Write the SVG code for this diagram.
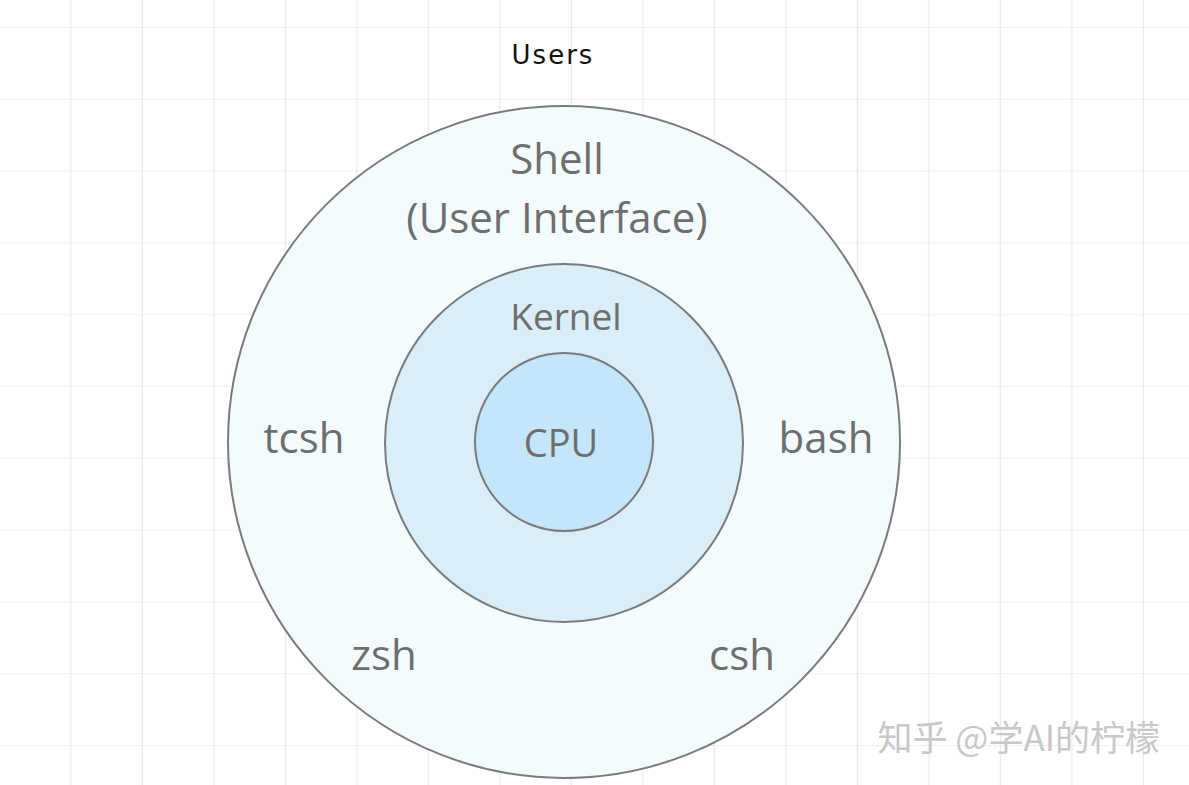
<svg xmlns="http://www.w3.org/2000/svg" width="1189" height="785" viewBox="0 0 1189 785">
<defs>
<pattern id="grid" x="0" y="27" width="71.5" height="71.8" patternUnits="userSpaceOnUse">
<path d="M71 0V71.8M0 0H71.5" fill="none" stroke="#ebebeb" stroke-width="1.5"/>
</pattern>
</defs>
<style>
.c{stroke:#7b7b7b;stroke-width:2}
.t{font-family:"Open Sans","Liberation Sans",sans-serif;fill:#6e6e6e;text-anchor:middle}
</style>
<rect width="1189" height="785" fill="#fff"/>
<rect width="1189" height="785" fill="url(#grid)"/>
<text x="553" y="64" style="font-family:'Comic Sans MS','DejaVu Sans',sans-serif;font-size:26px;letter-spacing:2px;fill:#111;text-anchor:middle">Users</text>
<g id="shell">
<circle class="c" cx="564" cy="442" r="336" fill="#f3fbfd"/>
<text class="t" x="557" y="174" font-size="42">Shell</text>
<text class="t" x="557" y="233" font-size="42">(User Interface)</text>
<text class="t" x="304" y="453" font-size="42">tcsh</text>
<text class="t" x="826" y="453" font-size="42">bash</text>
<text class="t" x="384" y="670" font-size="42">zsh</text>
<text class="t" x="742" y="670" font-size="42">csh</text>
</g>
<g id="kernel">
<circle class="c" cx="564" cy="443" r="179" fill="#d9eef8"/>
<text class="t" x="566" y="330" font-size="37">Kernel</text>
</g>
<g id="cpu">
<circle class="c" cx="564" cy="442" r="89" fill="#c4e6fb"/>
<text class="t" x="561" y="457" font-size="38">CPU</text>
</g>
<g id="connectors"/>
<text x="1160" y="751" style="font-family:'Noto Sans CJK SC',sans-serif;font-size:35px;fill:#c8c8c8;text-anchor:end">知乎 @学AI的柠檬</text>
</svg>
